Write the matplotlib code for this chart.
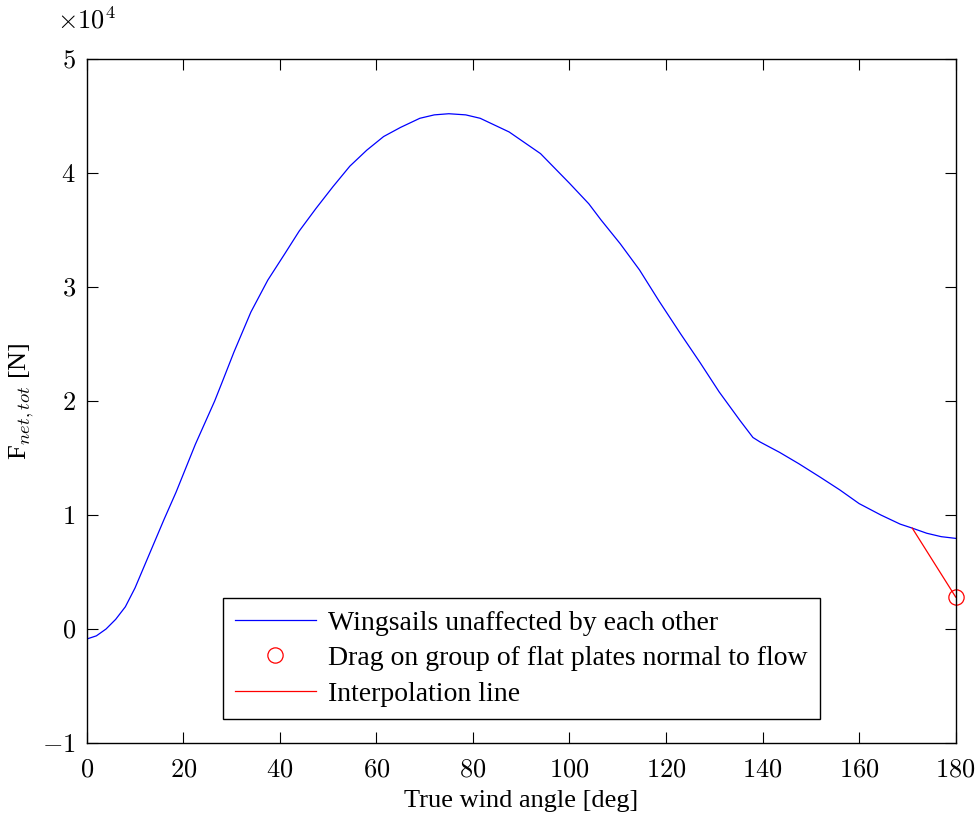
import numpy as np
import matplotlib
matplotlib.use("Agg")
import matplotlib.pyplot as plt
from matplotlib.ticker import FuncFormatter
from matplotlib.lines import Line2D

plt.rcParams['font.family'] = ['Liberation Serif', 'DejaVu Serif']
plt.rcParams['mathtext.fontset'] = 'cm'

# total net force [N] vs true wind angle [deg] (wingsails unaffected by each other)
angle = [0, 2, 4, 6, 8, 10, 12, 14, 16, 18.5, 20.5, 22.5, 24.5, 26.5, 28,
         30.5, 34, 37.5, 41, 44, 47.5, 51, 54.5, 58, 61.5, 65, 69, 72, 75,
         78.5, 81.5, 87.5, 94, 100, 102, 104, 106.5, 110.5, 114.5, 118.5, 123,
         127, 131, 135.3, 138, 139.5, 143.5, 147.5, 152, 156, 160, 164.5,
         168.5, 171, 174, 177, 180]
force = [-880, -600, 0, 850, 1950, 3600, 5600, 7600, 9600, 12000, 14100,
         16200, 18100, 20000, 21600, 24300, 27800, 30600, 32900, 34900, 36900,
         38800, 40600, 42000, 43200, 44000, 44800, 45100, 45200, 45100, 44800,
         43600, 41700, 39100, 38200, 37300, 35900, 33800, 31500, 28800, 25900,
         23400, 20800, 18300, 16800, 16400, 15500, 14500, 13300, 12200, 11000,
         10000, 9200, 8850, 8400, 8100, 7950]

# flat plate drag point and interpolation line
plate_angle = [180]
plate_force = [2800]
interp_angle = [171, 180]
interp_force = [8850, 2800]

scale = 1e4
fs = 19

fig = plt.figure(figsize=(9.79, 8.23), dpi=100)
ax = fig.add_axes([0.0886, 0.0972, 0.8876, 0.8311])

ax.plot(angle, np.array(force) / scale, color='blue', lw=0.9)
ax.plot(interp_angle, np.array(interp_force) / scale, color='red', lw=0.9)
ax.plot(plate_angle, np.array(plate_force) / scale, 'o', mfc='none', mec='red',
        ms=11, mew=0.9, clip_on=False)

ax.set_xlim(0, 180)
ax.set_ylim(-1, 5)
ax.set_xticks(np.arange(0, 181, 20))
ax.set_yticks(np.arange(-1, 6, 1))
fmt = FuncFormatter(lambda v, p: r"$%d$" % round(v))
ax.xaxis.set_major_formatter(fmt)
ax.yaxis.set_major_formatter(fmt)
ax.tick_params(direction='in', length=8, width=0.8, top=True, right=True,
               labelsize=fs)
ax.tick_params(axis='x', pad=12)
ax.tick_params(axis='y', pad=8)
for s in ax.spines.values():
    s.set_linewidth(1.0)

ax.set_xlabel('True wind angle [deg]', fontsize=fs, labelpad=6)
ax.set_ylabel(r'F$_{net,tot}$ [N]', fontsize=fs, labelpad=4)
fig.text(0.058, 0.975, r'$\times10^4$', fontsize=fs, ha='left', va='center')

handles = [Line2D([], [], color='blue', lw=0.9),
           Line2D([], [], marker='o', ls='none', mfc='none', mec='red', ms=11, mew=0.9),
           Line2D([], [], color='red', lw=0.9)]
labels = ['Wingsails unaffected by each other',
          'Drag on group of flat plates normal to flow',
          'Interpolation line']
leg = ax.legend(handles, labels, loc='lower center', bbox_to_anchor=(0.5, 0.035),
                fontsize=20, frameon=True, fancybox=False, edgecolor='black',
                framealpha=1, handlelength=2.9, handletextpad=0.43,
                labelspacing=0.36, borderpad=0.45, borderaxespad=0)
leg.get_frame().set_linewidth(1.0)

fig.savefig('out.png', dpi=100)
